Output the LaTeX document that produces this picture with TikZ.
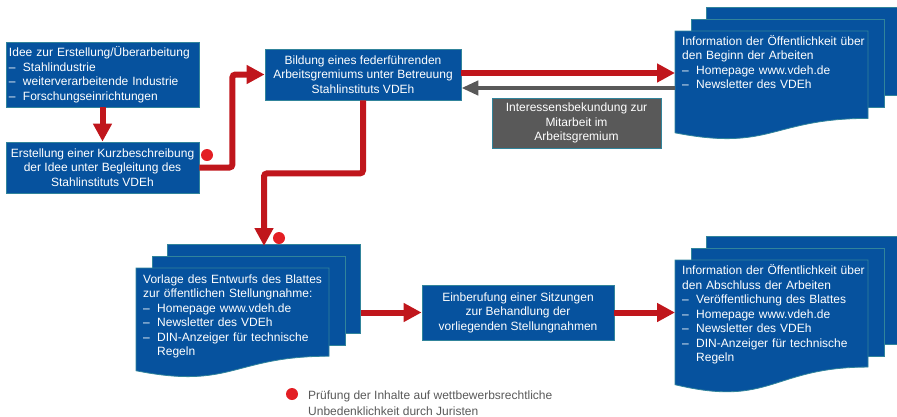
\documentclass[tikz,border=0pt]{standalone}
\usepackage{fontspec}
\setmainfont{Liberation Sans}
\usetikzlibrary{arrows.meta}

\definecolor{vdehblau}{RGB}{6,82,158}
\definecolor{vdehrand}{RGB}{49,132,155}
\definecolor{vdehrot}{RGB}{192,22,28}
\definecolor{vdehpunkt}{RGB}{227,30,36}
\definecolor{vdehgrau}{RGB}{89,89,89}

\newcommand{\stpunkt}[1]{\par\makebox[14pt][l]{–}#1}
\newcommand{\stweiter}[1]{\par\hspace*{14pt}#1}
\newcommand{\blattstapel}[3]{%
  \draw[blatt] (#1+31,#2-24) rectangle ++(193,0.802*#3+1);
  \draw[blatt] (#1+16,#2-12) rectangle ++(193,0.802*#3+1);
  \draw[blatt] (#1,#2) -- ++(193,0) -- ++(0,0.802*#3)
    .. controls ++(-96.5,0) and (#1+96.5,#2+1.1075*#3) .. (#1,#2+0.934*#3) -- cycle;
}

\begin{document}
\begin{tikzpicture}[x=1pt,y=-1pt,
  schrift/.style={font=\fontsize{12}{14.5}\selectfont},
  kasten/.style={schrift,draw=vdehrand,line width=0.8pt,fill=vdehblau,text=white,inner sep=0pt,align=center},
  blatt/.style={draw=vdehrand,line width=0.8pt,fill=vdehblau},
  blatttext/.style={schrift,text=white,text width=186pt,inner xsep=7pt,inner ysep=0pt,align=left},
  rotpfeil/.style={draw=vdehrot,line width=6pt,rounded corners=3pt,-{Triangle[length=18pt,width=18pt]}},
  graupfeil/.style={draw=vdehgrau,line width=4.5pt,-{Triangle[length=17pt,width=14pt]}},
  punkt/.style={circle,fill=vdehpunkt,minimum size=12pt,inner sep=0pt}]
\useasboundingbox (0,0) rectangle (897,416);

\node[kasten,text width=187pt,inner xsep=3pt,minimum height=65pt,align=left] (idee) at (102.5,74.5)
  {Idee zur Erstellung/Überarbeitung\stpunkt{Stahlindustrie}\stpunkt{weiterverarbeitende Industrie}\stpunkt{Forschungseinrichtungen}};
\node[kasten,minimum width=193pt,minimum height=51pt] (kurz) at (102.5,167.5)
  {Erstellung einer Kurzbeschreibung\\der Idee unter Begleitung des\\Stahlinstituts VDEh};
\node[kasten,minimum width=196pt,minimum height=51pt] (gremium) at (363,74.5)
  {Bildung eines federführenden\\Arbeitsgremiums unter Betreuung\\Stahlinstituts VDEh};
\node[kasten,fill=vdehgrau,minimum width=169pt,minimum height=50pt] (interesse) at (576.5,123)
  {Interessensbekundung zur\\Mitarbeit im\\Arbeitsgremium};
\node[kasten,minimum width=192pt,minimum height=55pt] (sitzung) at (518,312.5)
  {Einberufung einer Sitzungen\\zur Behandlung der\\vorliegenden Stellungnahmen};

\blattstapel{675}{31}{109}
\node[blatttext,anchor=base west] (beginn) at (675,45.4)
  {Information der Öffentlichkeit über\\den Beginn der Arbeiten\stpunkt{Homepage www.vdeh.de}\stpunkt{Newsletter des VDEh}};
\blattstapel{136}{268}{110}
\node[blatttext,anchor=base west] (vorlage) at (136,283.1)
  {Vorlage des Entwurfs des Blattes\\zur öffentlichen Stellungnahme:\stpunkt{Homepage www.vdeh.de}\stpunkt{Newsletter des VDEh}\stpunkt{DIN-Anzeiger für technische}\stweiter{Regeln}};
\blattstapel{675}{260}{133.5}
\node[blatttext,anchor=base west] (abschluss) at (675,274.8)
  {Information der Öffentlichkeit über\\den Abschluss der Arbeiten\stpunkt{Veröffentlichung des Blattes}\stpunkt{Homepage www.vdeh.de}\stpunkt{Newsletter des VDEh}\stpunkt{DIN-Anzeiger für technische}\stweiter{Regeln}};

\coordinate (vorlageoben) at (264,246);
\coordinate (vorlagerechts) at (361,312.5);

\draw[rotpfeil] (idee) -- (kurz);
\draw[rotpfeil] (kurz.east) -- ++(33,0) |- (gremium.west);
\draw[rotpfeil] ([yshift=1.5pt]gremium.east) -- ([yshift=1.5pt]gremium.east -| beginn.west);
\draw[graupfeil] ([yshift=-13.5pt]gremium.east -| beginn.west) -- ([yshift=-13.5pt]gremium.east);
\draw[rotpfeil] (gremium.south) -- ++(0,73) -| (vorlageoben);
\draw[rotpfeil] (vorlagerechts) -- (sitzung.west);
\draw[rotpfeil] (sitzung.east) -- (sitzung.east -| abschluss.west);

\node[punkt] (p1) at (207,155) {};
\node[punkt] (p2) at (279,238) {};
\node[punkt] (p3) at (292,394) {};
\node[anchor=west,text=vdehgrau,align=left,inner sep=0pt,font=\fontsize{12}{16.5}\selectfont] (legende) at (308,403)
  {Prüfung der Inhalte auf wettbewerbsrechtliche\\Unbedenklichkeit durch Juristen};
\end{tikzpicture}
\end{document}
